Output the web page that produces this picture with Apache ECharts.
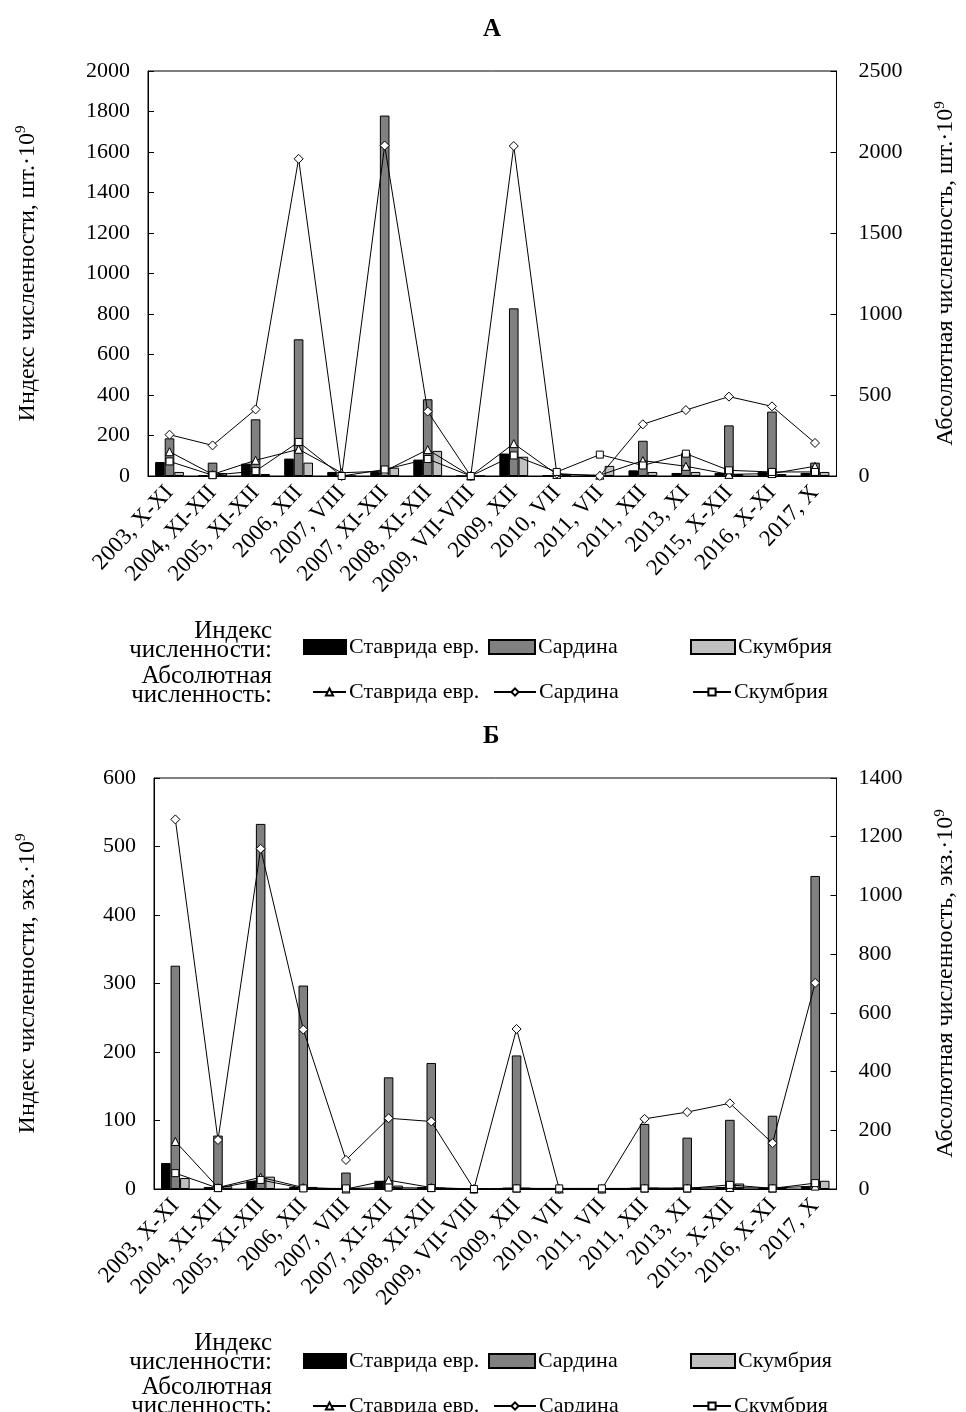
<!DOCTYPE html>
<html>
<head>
<meta charset="utf-8">
<script src="https://cdn.jsdelivr.net/npm/echarts@6/dist/echarts.min.js"></script>
<style>
  html, body { margin: 0; padding: 0; background: #fff; }
  #chart { width: 966px; height: 1412px; }
</style>
</head>
<body>
<div id="chart"></div>
<script>
var categories = ['2003, X-XI', '2004, XI-XII', '2005, XI-XII', '2006, XII', '2007, VIII',
    '2007, XI-XII', '2008, XI-XII', '2009, VII-VIII', '2009, XII', '2010, VII', '2011, VII',
    '2011, XII', '2013, XI', '2015, X-XII', '2016, X-XI', '2017, X'];

// А - индекс численности (левая ось) и абсолютная численность (правая ось)
var stavIdxA = [69, 5, 61, 86, 20, 20, 81, 0, 111, 3, 5, 28, 15, 15, 20, 15];
var sardIdxA = [186, 66, 280, 675, 0, 1780, 379, 0, 828, 5, 0, 174, 114, 250, 318, 66];
var scomIdxA = [20, 15, 10, 66, 0, 41, 124, 0, 95, 5, 50, 20, 20, 10, 10, 20];
var stavAbsA = [150, 10, 97, 165, 20, 30, 163, 0, 200, 10, 5, 95, 60, 10, 15, 60];
var sardAbsA = [255, 189, 411, 1958, 0, 2040, 398, 0, 2037, 15, 0, 319, 407, 490, 430, 204];
var scomAbsA = [90, 5, 30, 210, 0, 40, 105, 0, 127, 25, 132, 65, 138, 35, 25, 25];

// Б
var stavIdxB = [38, 3, 12, 3, 1, 12, 3, 0, 2, 1, 1, 2, 2, 3, 2, 4];
var sardIdxB = [326, 78, 533, 297, 24, 163, 184, 0, 195, 2, 0, 95, 75, 101, 107, 457];
var scomIdxB = [16, 4, 18, 3, 1, 5, 2, 0, 2, 1, 0, 2, 2, 8, 3, 12];
var stavAbsB = [162, 5, 40, 5, 0, 30, 5, 0, 3, 0, 0, 3, 3, 5, 3, 10];
var sardAbsB = [1259, 167, 1159, 543, 99, 241, 230, 0, 545, 0, 0, 239, 262, 292, 156, 702];
var scomAbsB = [54, 3, 31, 2, 2, 5, 3, 0, 2, 2, 2, 2, 2, 14, 2, 20];

var font = 'Liberation Serif';
var fs = 22;

function bar(name, color, data, xi, yi) {
    return {
        name: name, type: 'bar', xAxisIndex: xi, yAxisIndex: yi, data: data,
        barGap: '0%', barCategoryGap: '33%',
        itemStyle: { color: color, borderColor: '#000', borderWidth: 1 }
    };
}

// у линий имя с пробелом, чтобы легенда отличала их от столбцов
function line(name, symbol, size, data, xi, yi) {
    return {
        name: name + ' ', type: 'line', xAxisIndex: xi, yAxisIndex: yi, data: data,
        symbol: symbol, symbolSize: size, showAllSymbol: true,
        lineStyle: { color: '#000', width: 1 },
        itemStyle: { color: '#fff', borderColor: '#000', borderWidth: 1 },
        z: 3
    };
}

function xAxis(gi) {
    return {
        type: 'category', gridIndex: gi, data: categories,
        axisLine: { lineStyle: { color: '#000' } },
        axisTick: { inside: true, length: 5, lineStyle: { color: '#000' } },
        axisLabel: { rotate: 47, interval: 0, margin: 13, color: '#000', fontFamily: font, fontSize: 23 }
    };
}

function yAxis(gi, pos, max, step, name, gap) {
    return {
        type: 'value', gridIndex: gi, position: pos, min: 0, max: max, interval: step,
        name: name, nameLocation: 'middle', nameRotate: 90, nameGap: gap,
        nameTextStyle: {
            color: '#000',
            rich: {
                a: { fontFamily: font, fontSize: 24, color: '#000' },
                s: { fontFamily: font, fontSize: 15, color: '#000', verticalAlign: 'top', padding: [0, 0, 12, 0] }
            }
        },
        splitLine: { show: false },
        axisLine: { show: true, lineStyle: { color: '#000' } },
        axisTick: { show: true, inside: true, length: 6, lineStyle: { color: '#000' } },
        axisLabel: {
            color: '#000', fontFamily: font, fontSize: fs, margin: pos === 'left' ? 18 : 22,
            formatter: function (v) { return String(v); }
        }
    };
}

function legendItem(left, top, name, w, h) {
    return {
        left: left, top: top, padding: 0, itemWidth: w, itemHeight: h, selectedMode: false,
        data: [{ name: name, icon: h > 10 ? 'rect' : undefined }],
        formatter: function (n) { return n.trim(); },
        textStyle: { color: '#000', fontFamily: font, fontSize: fs, padding: [0, 0, 0, -2] }
    };
}

function legendRows(top, top2) {
    return [
        legendItem(303, top, 'Ставрида евр.', 42, 14),
        legendItem(488, top, 'Сардина', 46, 14),
        legendItem(690, top, 'Скумбрия', 44, 14),
        legendItem(312, top2, 'Ставрида евр. ', 33, 9),
        legendItem(493, top2, 'Сардина ', 42, 9),
        legendItem(692, top2, 'Скумбрия ', 38, 9)
    ];
}

function rowLabel(y, text) {
    return {
        type: 'text', right: 966 - 272, top: y,
        style: { text: text, fill: '#000', font: '25px "' + font + '"', textAlign: 'right', lineHeight: 19 }
    };
}

var chart = echarts.init(document.getElementById('chart'));

var option = {
    backgroundColor: '#fff',
    animation: false,
    title: [
        { text: 'А', left: 478, top: 12, textStyle: { fontFamily: font, fontSize: 25, fontWeight: 'bold', color: '#000' } },
        { text: 'Б', left: 478, top: 719, textStyle: { fontFamily: font, fontSize: 25, fontWeight: 'bold', color: '#000' } }
    ],
    grid: [
        { left: 148, top: 71, width: 697, height: 405, show: true, borderColor: '#000', borderWidth: 1 },
        { left: 154, top: 778, width: 689, height: 411, show: true, borderColor: '#000', borderWidth: 1 }
    ],
    xAxis: [xAxis(0), xAxis(1)],
    yAxis: [
        yAxis(0, 'left', 2000, 200, '{a|Индекс численности, шт.·10}{s|9}', 107),
        yAxis(0, 'right', 2500, 500, '{a|Абсолютная численность, шт.·10}{s|9}', 96),
        yAxis(1, 'left', 600, 100, '{a|Индекс численности, экз.·10}{s|9}', 113),
        yAxis(1, 'right', 1400, 200, '{a|Абсолютная численность, экз.·10}{s|9}', 96)
    ],
    legend: legendRows(636, 681).concat(legendRows(1350, 1395)),
    graphic: [
        rowLabel(619, 'Индекс\nчисленности:'),
        rowLabel(664, 'Абсолютная\nчисленность:'),
        rowLabel(1331, 'Индекс\nчисленности:'),
        rowLabel(1375, 'Абсолютная\nчисленность:')
    ],
    series: [
        bar('Ставрида евр.', '#000', stavIdxA, 0, 0),
        bar('Сардина', '#808080', sardIdxA, 0, 0),
        bar('Скумбрия', '#c0c0c0', scomIdxA, 0, 0),
        line('Ставрида евр.', 'triangle', 8, stavAbsA, 0, 1),
        line('Сардина', 'diamond', 9, sardAbsA, 0, 1),
        line('Скумбрия', 'rect', 7, scomAbsA, 0, 1),
        bar('Ставрида евр.', '#000', stavIdxB, 1, 2),
        bar('Сардина', '#808080', sardIdxB, 1, 2),
        bar('Скумбрия', '#c0c0c0', scomIdxB, 1, 2),
        line('Ставрида евр.', 'triangle', 8, stavAbsB, 1, 3),
        line('Сардина', 'diamond', 9, sardAbsB, 1, 3),
        line('Скумбрия', 'rect', 7, scomAbsB, 1, 3)
    ]
};

chart.setOption(option);
</script>
</body>
</html>
